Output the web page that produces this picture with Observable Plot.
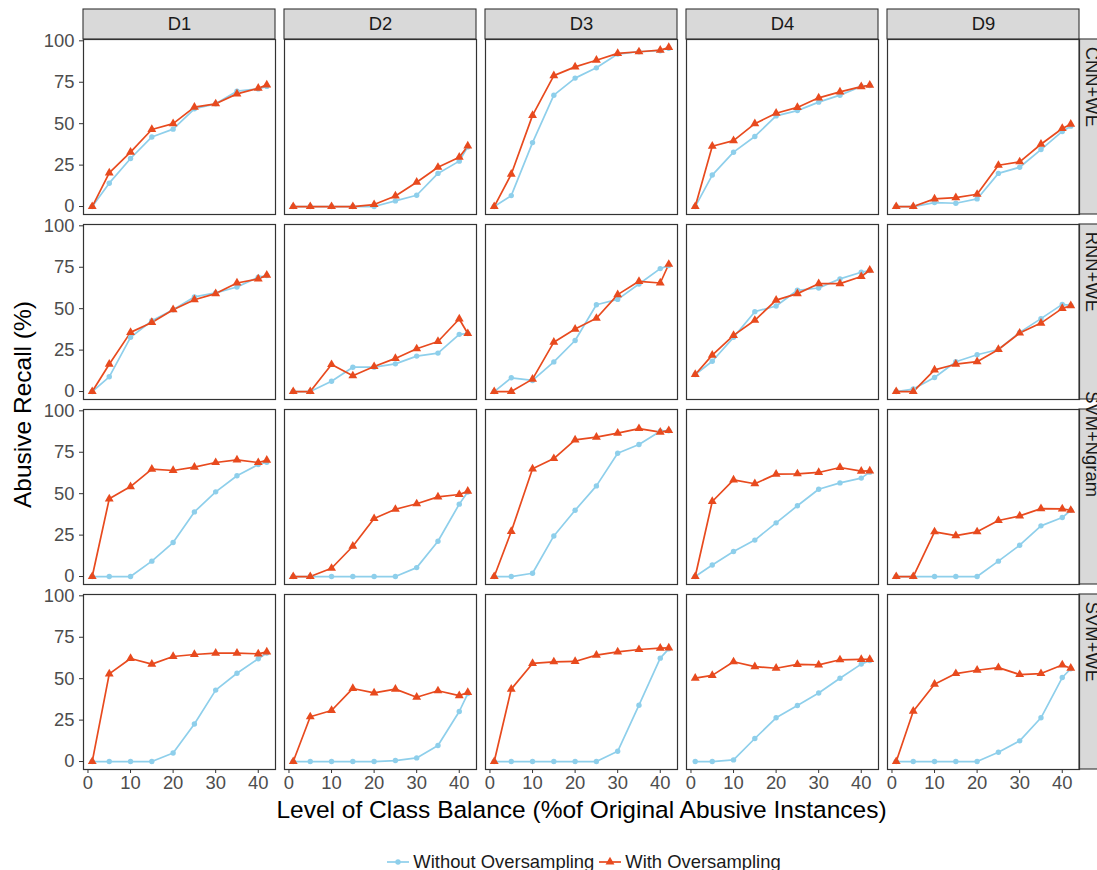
<!DOCTYPE html>
<html>
<head>
<meta charset="utf-8">
<script src="https://cdn.jsdelivr.net/npm/d3@7"></script>
<script src="https://cdn.jsdelivr.net/npm/@observablehq/plot@0.6"></script>
<style>
  html, body { margin: 0; padding: 0; background: #fff; overflow: hidden; }
  body { width: 1097px; height: 870px; font-family: "Liberation Sans", Arial, Helvetica, sans-serif; }
  #legend { display: flex; justify-content: center; align-items: center; width: 1097px; padding-left: 70px; box-sizing: border-box; margin-top: 21px; font-size: 18.4px; color: #1a1a1a; }
  .item { display: flex; align-items: center; margin: 0 2px; }
  .item svg { margin-right: 3px; }
</style>
</head>
<body>
<div id="chart"></div>
<div id="legend"></div>
<script>
// ---------------- data ----------------
const xLevels = [1, 5, 10, 15, 20, 25, 30, 35, 40, 42];
const datasets = ["D1", "D2", "D3", "D4", "D9"];
const models = ["CNN+WE", "RNN+WE", "SVM+Ngram", "SVM+WE"];
const seriesNames = ["Without Oversampling", "With Oversampling"];
const seriesColors = ["#8ECFEB", "#E84A1E"];

// each array: one row per dataset (D1, D2, D3, D4, D9), values per xLevel
const cnnWithout = [
  [0, 14.1, 29, 42, 46.7, 59, 62, 69.6, 71, 72.5],
  [0, 0, 0, 0, 0, 3.4, 6.8, 20, 27.4, 36],
  [0, 6.6, 38.6, 67.2, 77.5, 83.7, 92, 93.4, 94, 95.5],
  [0, 19, 32.8, 42.3, 54.7, 57.9, 63, 67.2, 72.5, 73],
  [0, 0, 2.4, 2, 4.6, 20, 23.7, 34.4, 45.3, 48.5]
];
const cnnWith = [
  [0, 20.3, 32.8, 46.5, 50, 60, 62, 68, 71.4, 73.4],
  [0, 0, 0, 0, 1.2, 6.4, 14.7, 23.7, 29.8, 36.6],
  [0, 19.5, 55, 79, 84.3, 88.3, 92.4, 93.4, 94.4, 96],
  [0, 36.4, 39.8, 50, 56.3, 59.8, 65.6, 69.2, 72.4, 73.2],
  [0, 0, 4.6, 5.4, 7.4, 24.9, 27, 37.6, 47.1, 49.7]
];
const rnnWithout = [
  [0, 8.9, 32.7, 42.7, 49.4, 57.1, 59.5, 63.1, 69, 70],
  [0, 0, 6.2, 14.7, 14.7, 16.7, 21.4, 23.2, 34.5, 35],
  [0, 8.3, 6.7, 17.9, 30.8, 52.4, 55.6, 64.9, 74.2, 76],
  [10.3, 18.3, 32.7, 48.2, 51.6, 61.1, 62.5, 68, 72, 73],
  [0, 1.5, 8.5, 18, 22.2, 25.4, 35.7, 44, 52.6, 52]
];
const rnnWith = [
  [0, 16.5, 35.7, 41.7, 49.4, 55.4, 59.1, 65.5, 68, 70.2],
  [0, 0, 16.3, 9.5, 15.1, 20, 25.8, 30.2, 43.8, 35],
  [0, 0, 7.5, 29.8, 37.7, 44.2, 58.5, 66.5, 65.5, 76.8],
  [10.3, 22, 33.9, 43, 55.2, 59.1, 65.1, 65.1, 69.4, 73.2],
  [0, 0, 13.1, 16.5, 18, 25.4, 35.3, 41.3, 50.2, 51.8]
];
const svmNgramWithout = [
  [0, 0, 0, 9.3, 20.5, 39, 51.1, 60.8, 67.6, 69],
  [0, 0, 0, 0, 0, 0, 5.4, 21.3, 43.7, 51],
  [0, 0, 2, 24.5, 40, 54.7, 74.4, 79.7, 87.7, 88],
  [0, 7, 15.1, 22, 32.4, 42.7, 52.7, 56.5, 59.4, 63],
  [0, 0, 0, 0, 0, 9.3, 18.9, 30.6, 35.6, 40]
];
const svmNgramWith = [
  [0, 46.9, 54.3, 64.8, 64, 66, 68.8, 70.4, 68.8, 70.2],
  [0, 0, 5, 18.3, 35, 40.6, 43.9, 48.1, 49.5, 51.5],
  [0, 27.2, 65, 71.2, 82.5, 84.1, 86.5, 89.3, 87.1, 88.1],
  [0, 45.3, 58.3, 56, 61.8, 62, 62.8, 65.8, 63.6, 63.8],
  [0, 0, 27, 24.7, 27, 33.8, 36.6, 41, 40.8, 40]
];
const svmWeWithout = [
  [0, 0, 0, 0, 5.2, 22.7, 43.1, 53.3, 62, 65.5],
  [0, 0, 0, 0, 0, 0.6, 2.2, 9.7, 30.2, 41],
  [0, 0, 0, 0, 0, 0, 6.2, 34, 62.4, 68],
  [0, 0, 1, 13.9, 26.4, 33.8, 41.4, 50.3, 58.8, 61],
  [0, 0, 0, 0, 0, 5.6, 12.5, 26.4, 50.7, 56]
];
const svmWeWith = [
  [0, 52.9, 62.2, 58.8, 63.4, 64.6, 65.4, 65.4, 65, 66.2],
  [0, 27, 30.8, 44.1, 41.4, 43.7, 38.8, 42.7, 39.8, 41.7],
  [0, 43.7, 59.2, 60.2, 60.4, 64.2, 66.2, 67.6, 68.4, 68.6],
  [50.3, 52, 60.2, 57.3, 56.3, 58.6, 58.3, 61.4, 61.6, 61.6],
  [0, 30.4, 46.7, 53.1, 55.1, 56.7, 52.5, 53.1, 58.3, 56.3]
];

const xTicks = [0, 10, 20, 30, 40];
const yTicks = [0, 25, 50, 75, 100];
const xTitle = "Level of Class Balance (%of Original Abusive Instances)";
const yTitle = "Abusive Recall (%)";

// ---------------- build table ----------------
const byModel = [
  [cnnWithout, cnnWith],
  [rnnWithout, rnnWith],
  [svmNgramWithout, svmNgramWith],
  [svmWeWithout, svmWeWith]
];
const rows = [];
models.forEach((m, mi) => {
  seriesNames.forEach((s, si) => {
    byModel[mi][si].forEach((vals, di) => {
      vals.forEach((v, i) => rows.push({model: m, dataset: datasets[di], series: s, x: xLevels[i], y: v}));
    });
  });
});

// ggplot-like 5% expansion
const xMin = d3.min(xLevels), xMax = d3.max(xLevels);
const yMin = d3.min(rows, d => d.y), yMax = d3.max(rows, d => d.y);
const xPad = (xMax - xMin) * 0.05, yPad = (yMax - yMin) * 0.05;
const xDom = [xMin - xPad, xMax + xPad];
const yDom = [yMin - yPad, yMax + yPad];

const topStrips = datasets.map(d => ({dataset: d, model: models[0]}));
const rightStrips = models.map(m => ({dataset: datasets[datasets.length - 1], model: m}));
const fontFam = "Liberation Sans, Arial, Helvetica, sans-serif";
const smallFont = 18.4, bigFont = 24.5;

const chart = Plot.plot({
  width: 1097,
  height: 830,
  marginLeft: 81.7,
  marginRight: 17.7,
  marginTop: 39.3,
  marginBottom: 60,
  style: {fontFamily: fontFam, background: "#fff", overflow: "visible"},
  x: {domain: xDom, label: null},
  y: {domain: yDom, label: null},
  fx: {domain: datasets, axis: null, paddingInner: 0.046, paddingOuter: 0, label: null},
  fy: {domain: models, axis: null, paddingInner: 0.052, paddingOuter: 0, label: null},
  color: {domain: seriesNames, range: seriesColors},
  marks: [
    // strips
    Plot.rect(topStrips, {fx: "dataset", fy: "model", x1: () => xDom[0], x2: () => xDom[1], y1: () => yDom[1], y2: () => yDom[1], insetTop: -30, fill: "#d9d9d9", stroke: "#333", strokeWidth: 1.1}),
    Plot.rect(rightStrips, {fx: "dataset", fy: "model", x1: () => xDom[1], x2: () => xDom[1], y1: () => yDom[0], y2: () => yDom[1], insetRight: -24, fill: "#d9d9d9", stroke: "#333", strokeWidth: 1.1}),
    Plot.text(topStrips, {fx: "dataset", fy: "model", text: "dataset", frameAnchor: "top", lineAnchor: "middle", dy: -15, fontSize: smallFont, fill: "#1a1a1a"}),
    Plot.text(rightStrips, {fx: "dataset", fy: "model", text: "model", frameAnchor: "right", lineAnchor: "middle", dx: 12, rotate: 90, fontSize: smallFont, fill: "#1a1a1a"}),
    // axes
    Plot.axisX({ticks: xTicks, tickSize: 4, tickPadding: 2, fontSize: smallFont, fill: "#4d4d4d", stroke: "#333", label: null}),
    Plot.axisY({ticks: yTicks, tickSize: 4, tickPadding: 5, fontSize: smallFont, fill: "#4d4d4d", stroke: "#333", label: null}),
    // titles
    Plot.text([{dataset: datasets[2], model: models[3]}], {fx: "dataset", fy: "model", text: () => xTitle, frameAnchor: "bottom", lineAnchor: "middle", dy: 41, fontSize: bigFont, fill: "#000"}),
    Plot.text([{dataset: datasets[0], model: models[1]}], {fx: "dataset", fy: "model", text: () => yTitle, frameAnchor: "bottom-left", lineAnchor: "middle", textAnchor: "middle", dx: -60, dy: 5, rotate: -90, fontSize: bigFont, fill: "#000"}),
    // data
    Plot.line(rows, {fx: "dataset", fy: "model", x: "x", y: "y", z: "series", stroke: "series", strokeWidth: 1.7}),
    Plot.dot(rows.filter(d => d.series === seriesNames[0]), {fx: "dataset", fy: "model", x: "x", y: "y", fill: "series", r: 2.7, symbol: "circle"}),
    Plot.dot(rows.filter(d => d.series === seriesNames[1]), {fx: "dataset", fy: "model", x: "x", y: "y", fill: "series", r: 3.3, symbol: "triangle"}),
    // panel borders
    Plot.frame({stroke: "#333", strokeWidth: 1.2})
  ]
});
document.getElementById("chart").appendChild(chart);

// legend
const legend = d3.select("#legend");
seriesNames.forEach((s, i) => {
  const item = legend.append("div").attr("class", "item");
  const svg = item.append("svg").attr("width", 24).attr("height", 16);
  svg.append("line").attr("x1", 1).attr("x2", 23).attr("y1", 8).attr("y2", 8).attr("stroke", seriesColors[i]).attr("stroke-width", 1.7);
  const sym = i === 0 ? d3.symbolCircle : d3.symbolTriangle;
  const size = i === 0 ? Math.PI * 2.7 * 2.7 : Math.PI * 3.3 * 3.3;
  svg.append("path").attr("d", d3.symbol(sym, size)()).attr("transform", "translate(12,8)").attr("fill", seriesColors[i]);
  item.append("span").text(s);
});
</script>
</body>
</html>
